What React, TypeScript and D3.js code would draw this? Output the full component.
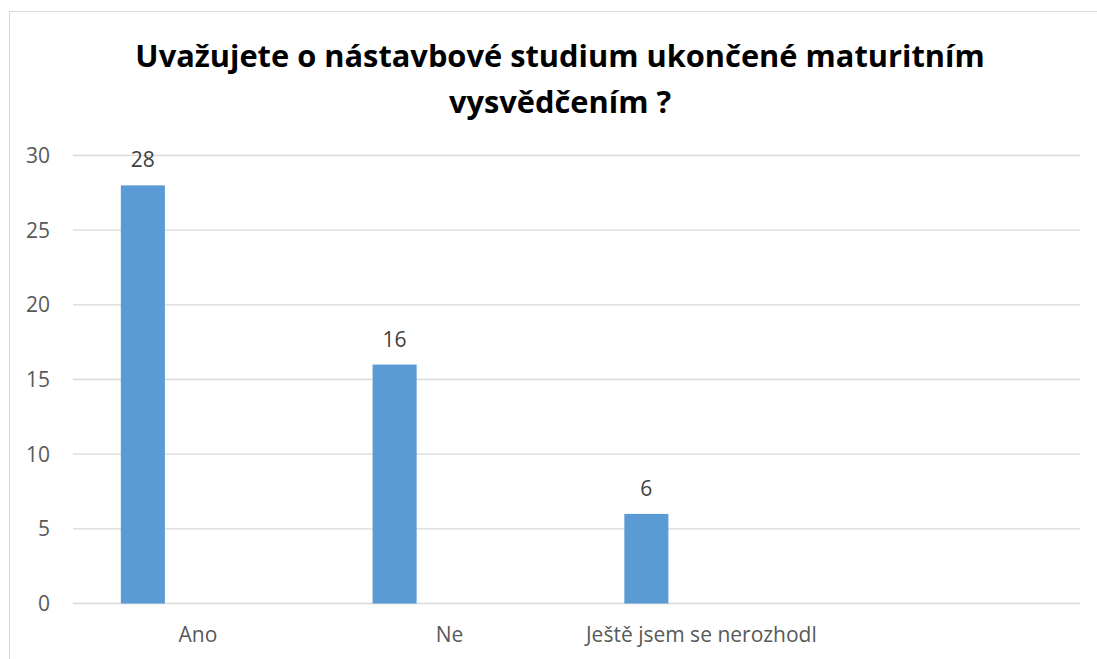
import React from "react";
import * as d3 from "d3";

const title = ["Uvažujete o nástavbové studium ukončené maturitním", "vysvědčením ?"];
const categories = ["Ano", "Ne", "Ještě jsem se nerozhodl", ""];
const values = [28, 16, 6, null];
const yTicks = [0, 5, 10, 15, 20, 25, 30];

const W = 1097;
const H = 659;
const FONT = "'Open Sans', 'DejaVu Sans', sans-serif";

export default function App() {
  const x = d3.scaleBand<string>().domain(categories).range([73, 1080]).padding(0);
  const y = d3.scaleLinear().domain([0, 30]).range([603.5, 155.5]);
  const bw = x.bandwidth();
  const barOff = bw * 0.19;
  const barW = bw * 0.175;

  return (
    <svg
      width={W}
      height={H}
      style={{ position: "absolute", left: 0, top: 0, background: "#fff" }}
      fontFamily={FONT}
    >
      <rect x={9.5} y={11.5} width={W + 20} height={H + 20} fill="#fff" stroke="#d9d9d9" strokeWidth={1} />
      {title.map((t, i) => (
        <text
          key={i}
          x={560}
          y={67 + i * 46}
          textAnchor="middle"
          fontSize={30.8}
          fontWeight={700}
          fill="#000"
        >
          {t}
        </text>
      ))}
      {yTicks.map((t) => (
        <g key={t}>
          <line x1={73} x2={1080} y1={y(t)} y2={y(t)} stroke="#d9d9d9" strokeWidth={1.3} />
          <text x={50} y={y(t) + 7.5} textAnchor="end" fontSize={21} fill="#595959">
            {t}
          </text>
        </g>
      ))}
      {categories.map((c, i) => {
        const v = values[i];
        const x0 = (x(c) as number) + barOff;
        return (
          <g key={i}>
            {v != null && (
              <>
                <rect x={x0} y={y(v)} width={barW} height={y(0) - y(v)} fill="#5b9bd5" />
                <text x={x0 + barW / 2} y={y(v) - 18} textAnchor="middle" fontSize={21} fill="#404040">
                  {v}
                </text>
              </>
            )}
            <text
              x={(x(c) as number) + bw / 2 - 1}
              y={642}
              textAnchor="middle"
              fontSize={21}
              fill="#595959"
            >
              {c}
            </text>
          </g>
        );
      })}
    </svg>
  );
}
